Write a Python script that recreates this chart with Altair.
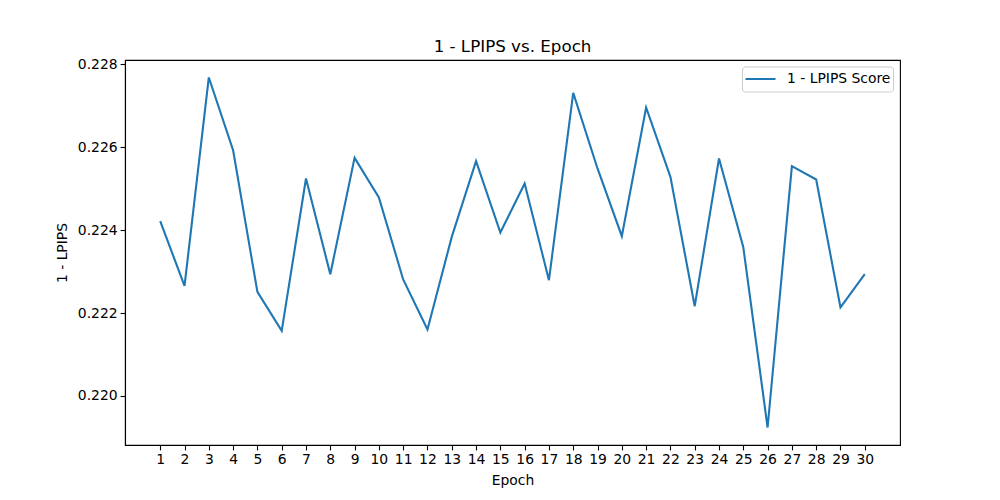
import altair as alt
import pandas as pd

epochs = list(range(1, 31))
scores = [0.224218, 0.222656, 0.227686, 0.225931, 0.222511, 0.221570, 0.225248, 0.222938,
          0.225746, 0.224790, 0.222811, 0.221604, 0.223839, 0.225666, 0.223945, 0.225128,
          0.222794, 0.227315, 0.225490, 0.223856, 0.226962, 0.225287, 0.222166, 0.225731,
          0.223590, 0.219238, 0.225545, 0.225224, 0.222135, 0.222938]
series = ["1 - LPIPS Score"] * len(epochs)
y_ticks = [0.220, 0.222, 0.224, 0.226, 0.228]

df = pd.DataFrame({"Epoch": epochs, "Score": scores, "Series": series})

font = "DejaVu Sans"

chart = alt.Chart(df).mark_line(strokeWidth=2.1, clip=True).encode(
    x=alt.X("Epoch:Q",
            scale=alt.Scale(domain=[-0.45, 31.45], nice=False, zero=False),
            axis=alt.Axis(values=epochs, title="Epoch", grid=False, labelFlush=False,
                          tickCount=30)),
    y=alt.Y("Score:Q",
            scale=alt.Scale(domain=[0.218816, 0.228108], nice=False, zero=False),
            axis=alt.Axis(values=y_ticks, format=".3f", title="1 - LPIPS", grid=False,
                          labelFlush=False)),
    color=alt.Color("Series:N",
                    scale=alt.Scale(range=["#1f77b4"]),
                    legend=alt.Legend(title=None, orient="none", legendX=617, legendY=6.5,
                                      symbolType="stroke", symbolStrokeWidth=2.1,
                                      symbolSize=900, clipHeight=21,
                                      labelFontSize=13.9, labelFont=font,
                                      labelColor="black", fillColor="white",
                                      strokeColor="#cccccc", padding=2, cornerRadius=3,
                                      labelOffset=10)),
).properties(
    width=775,
    height=385,
    title=alt.Title("1 - LPIPS vs. Epoch", fontSize=16.7, fontWeight="normal", font=font,
                    color="black", offset=2),
    padding={"left": 125, "top": 60, "right": 100, "bottom": 55},
    autosize=alt.AutoSizeParams(type="none"),
).configure_view(
    stroke="black", strokeWidth=1.1
).configure_axis(
    labelFont=font, titleFont=font, labelFontSize=13.9, titleFontSize=13.9,
    labelColor="black", titleColor="black", titleFontWeight="normal",
    domainColor="black", tickColor="black", tickSize=4.9, domainWidth=1.1, tickWidth=1.1,
    labelPadding=3,
).configure_axisX(
    titlePadding=7
).configure_axisY(
    titlePadding=8
)

chart.save("out.html", embed_options={"renderer": "svg", "actions": False})
